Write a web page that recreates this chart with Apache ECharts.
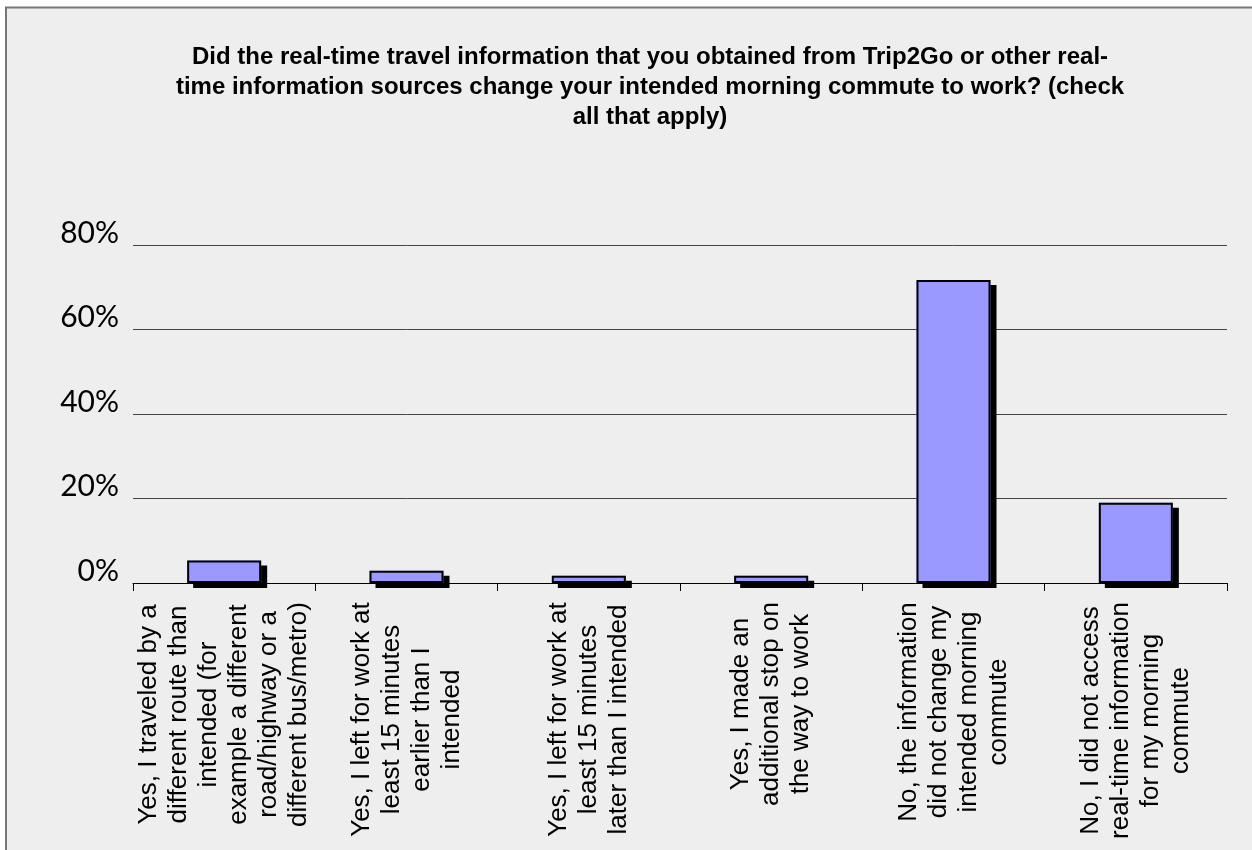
<!DOCTYPE html>
<html>
<head>
<meta charset="utf-8">
<script src="https://cdn.jsdelivr.net/npm/echarts@6/dist/echarts.min.js"></script>
<style>
html,body{margin:0;padding:0;background:#fff;}
#chart{width:1252px;height:850px;}
</style>
</head>
<body>
<div id="chart"></div>
<script>
const titleLines = [
  "Did the real-time travel information that you obtained from Trip2Go or other real-",
  "time information sources change your intended morning commute to work? (check",
  "all that apply)"
];
const categories = [
  "Yes, I traveled by a\ndifferent route than\nintended (for\nexample a different\nroad/highway or a\ndifferent bus/metro)",
  "Yes, I left for work at\nleast 15 minutes\nearlier than I\nintended",
  "Yes, I left for work at\nleast 15 minutes\nlater than I intended",
  "Yes, I made an\nadditional stop on\nthe way to work",
  "No, the information\ndid not change my\nintended morning\ncommute",
  "No, I did not access\nreal-time information\nfor my morning\ncommute"
];
const values = [5.3, 2.9, 1.7, 1.7, 71.7, 19.0];
const yTicks = [0, 20, 40, 60, 80];

const labelFontSize = 26;
const labelFamily = '"Liberation Sans", Arial, sans-serif';
const ctx = document.createElement('canvas').getContext('2d');
ctx.font = labelFontSize + 'px ' + labelFamily;
const rich = {};
categories.forEach((c, i) => {
  const w = Math.max(...c.split('\n').map(l => ctx.measureText(l).width));
  rich['c' + i] = {
    width: Math.ceil(w) + 2, align: 'center',
    fontFamily: labelFamily, fontSize: labelFontSize,
    lineHeight: 30, color: '#000'
  };
});

const chart = echarts.init(document.getElementById('chart'), null, {renderer: 'canvas'});
chart.setOption({
  backgroundColor: '#ffffff',
  animation: false,
  graphic: [{
    type: 'rect', z: -10, silent: true,
    shape: {x: 6, y: 7.5, width: 1260, height: 860},
    style: {fill: '#eeeeee', stroke: '#777777', lineWidth: 2}
  }],
  title: {
    text: titleLines.join('\n'),
    left: 645, top: 37, textAlign: 'center',
    textStyle: {
      fontFamily: '"Liberation Sans", Arial, sans-serif',
      fontSize: 24, fontWeight: 'bold', color: '#000', lineHeight: 30
    }
  },
  grid: {left: 133, right: 25, top: 245, bottom: 267, containLabel: false},
  xAxis: {
    type: 'category',
    data: categories,
    boundaryGap: true,
    axisLine: {lineStyle: {color: '#000', width: 1}},
    axisTick: {show: true, length: 8, lineStyle: {color: '#000'}},
    axisLabel: {
      rotate: 90, margin: 18, interval: 0,
      formatter: (v, i) => v.split('\n').map(l => '{c' + i + '|' + l + '}').join('\n'),
      rich: rich
    }
  },
  yAxis: {
    type: 'value', min: 0, max: 80, interval: 20,
    axisLine: {show: false}, axisTick: {show: false},
    splitLine: {lineStyle: {color: '#444444', width: 1}},
    axisLabel: {
      margin: 14, color: '#000',
      fontFamily: 'Lato, "Open Sans", sans-serif', fontSize: 30,
      verticalAlign: 'bottom', lineHeight: 24,
      formatter: v => yTicks.includes(v) ? v + '%' : ''
    }
  },
  series: [{
    type: 'bar',
    data: values,
    barWidth: 74,
    z: 2,
    itemStyle: {
      color: '#9999ff', borderWidth: 0,
      shadowColor: '#000', shadowBlur: 0, shadowOffsetX: 6, shadowOffsetY: 5
    }
  }, {
    type: 'bar',
    data: values,
    barWidth: 74,
    barGap: '-100%',
    z: 3,
    itemStyle: {
      color: 'rgba(0,0,0,0)', borderColor: '#000', borderWidth: 2
    }
  }]
});
</script>
</body>
</html>
